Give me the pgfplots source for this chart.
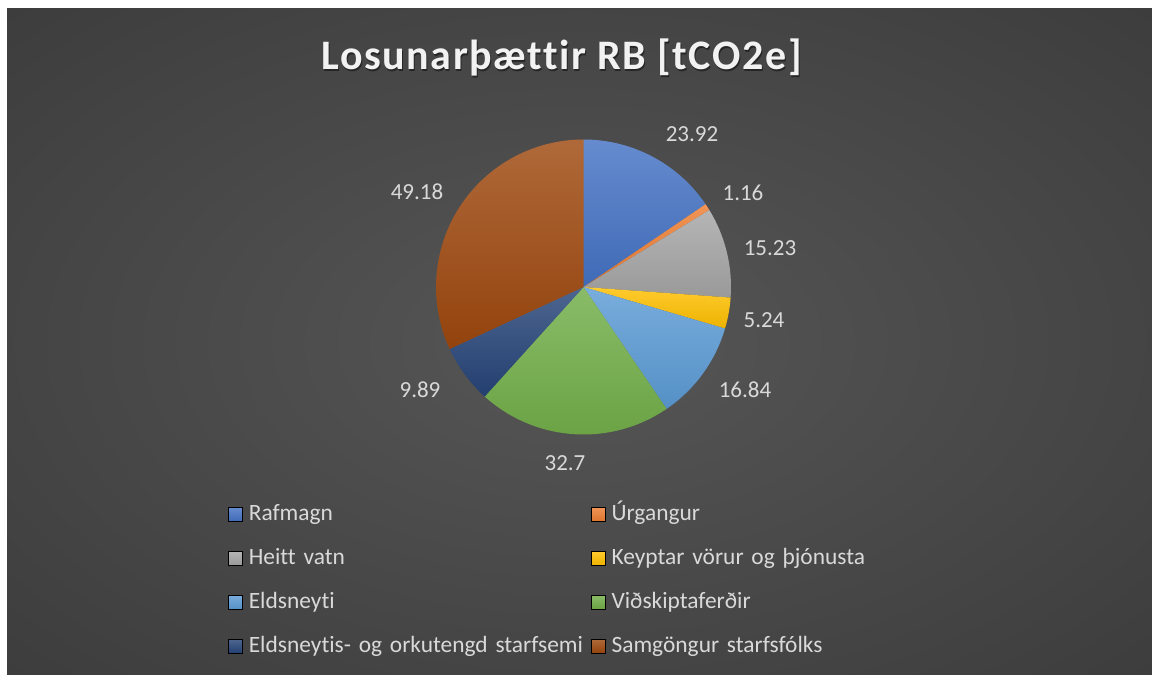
\documentclass[border=0pt]{standalone}
\usepackage{pgfplots}
\pgfplotsset{compat=1.18}
\usepackage{pgfplotstable}
\usepackage{fontspec}
\setmainfont{Carlito}[Ligatures=NoCommon]
\newfontfamily\titlefont[LetterSpace=3.8, Ligatures=NoCommon]{Carlito}
\definecolor{cA}{HTML}{4472C4}
\definecolor{cB}{HTML}{ED7D31}
\definecolor{cC}{HTML}{A5A5A5}
\definecolor{cD}{HTML}{FFC000}
\definecolor{cE}{HTML}{5B9BD5}
\definecolor{cF}{HTML}{70AD47}
\definecolor{cG}{HTML}{264478}
\definecolor{cH}{HTML}{9E480E}
\definecolor{bgin}{HTML}{565656}
\definecolor{bgout}{HTML}{232323}
\definecolor{lbl}{HTML}{D9D9D9}
\definecolor{ttl}{HTML}{F2F2F2}
\pgfdeclareradialshading{bgshade}{\pgfpoint{0bp}{0bp}}{color(0bp)=(bgin); color(72bp)=(bgout)}
\pgfplotstableread{
idx value
0 23.92
1 1.16
2 15.23
3 5.24
4 16.84
5 32.7
6 9.89
7 49.18
}\piedata
\pgfplotstableread{
x y lab
692 540.5 23.92
743 482 1.16
770 427 15.23
764 355 5.24
745 285 16.84
565 212 32.7
420 285 9.89
417 483 49.18
}\labeldata
\tikzset{
 slice0/.style={top color=cA!82!white, bottom color=cA!93!black},
 slice1/.style={top color=cB!82!white, bottom color=cB!93!black},
 slice2/.style={top color=cC!82!white, bottom color=cC!93!black},
 slice3/.style={top color=cD!82!white, bottom color=cD!93!black},
 slice4/.style={top color=cE!82!white, bottom color=cE!93!black},
 slice5/.style={top color=cF!82!white, bottom color=cF!93!black},
 slice6/.style={top color=cG!82!white, bottom color=cG!93!black},
 slice7/.style={top color=cH!82!white, bottom color=cH!93!black},
}
\newcommand\legsq[1]{\addlegendimage{legend image code/.code={\fill[top color=#1!82!white, bottom color=#1!93!black] (0pt,-3.5pt) rectangle (7pt,3.5pt); \path (10pt,0pt);}}}
\begin{document}
\begin{tikzpicture}
\xdef\cum{0}
\foreach \i in {0,...,7}{%
  \pgfplotstablegetelem{\i}{value}\of\piedata
  \pgfmathsetmacro\tmp{\cum+\pgfplotsretval}%
  \xdef\cum{\tmp}%
}
\xdef\total{\cum}
\xdef\cum{0}
\foreach \i in {0,...,7}{%
  \pgfplotstablegetelem{\i}{value}\of\piedata
  \pgfmathsetmacro\sa{90-360*(\cum/\total)}%
  \pgfmathsetmacro\tmp{\cum+\pgfplotsretval}%
  \xdef\cum{\tmp}%
  \pgfmathsetmacro\ea{90-360*(\cum/\total)}%
  \expandafter\xdef\csname sa\i\endcsname{\sa}%
  \expandafter\xdef\csname ea\i\endcsname{\ea}%
}
\begin{axis}[
  scale only axis, width=576pt, height=337.5pt,
  xmin=0, xmax=1152, ymin=0, ymax=675,
  hide axis, clip=false,
  legend columns=2,
  legend cell align=left,
  legend style={draw=none, fill=none, at={(axis cs:228,171.7)}, anchor=north west,
    inner sep=0pt, outer sep=0pt, font=\fontsize{11.7}{13}\selectfont, text=lbl, row sep=11pt,
    nodes={inner sep=0pt, text width=171pt, text height=8.5pt, text depth=2.5pt}},
]
\fill[white] (axis cs:0,0) rectangle (axis cs:1152,675);
\shade[shading=bgshade] (axis cs:7,0) rectangle (axis cs:1152,666);
\pgfplotsinvokeforeach{0,...,7}{
  \path[slice#1] (axis cs:583.5,388) -- ++(\csname sa#1\endcsname:73.75pt)
    arc[start angle=\csname sa#1\endcsname, end angle=\csname ea#1\endcsname, radius=73.75pt] -- cycle;
}
\node[anchor=base, font=\titlefont\bfseries\fontsize{21}{25}\selectfont, text=black, opacity=0.45] at (axis cs:562.5,603.5) {Losunarþættir RB [tCO2e]};
\node[anchor=base, font=\titlefont\bfseries\fontsize{21}{25}\selectfont, text=ttl] at (axis cs:561.5,605) {Losunarþættir RB [tCO2e]};
\addplot[draw=none, mark=none, forget plot, nodes near coords, point meta=explicit symbolic,
  nodes near coords style={anchor=center, font=\fontsize{11.5}{13}\selectfont, text=lbl}]
  table[x=x, y=y, meta=lab] {\labeldata};
\legsq{cA}\addlegendentry{Rafmagn}
\legsq{cB}\addlegendentry{Úrgangur}
\legsq{cC}\addlegendentry{Heitt vatn}
\legsq{cD}\addlegendentry{Keyptar vörur og þjónusta}
\legsq{cE}\addlegendentry{Eldsneyti}
\legsq{cF}\addlegendentry{Viðskiptaferðir}
\legsq{cG}\addlegendentry{Eldsneytis- og orkutengd starfsemi}
\legsq{cH}\addlegendentry{Samgöngur starfsfólks}
\end{axis}
\end{tikzpicture}
\end{document}
